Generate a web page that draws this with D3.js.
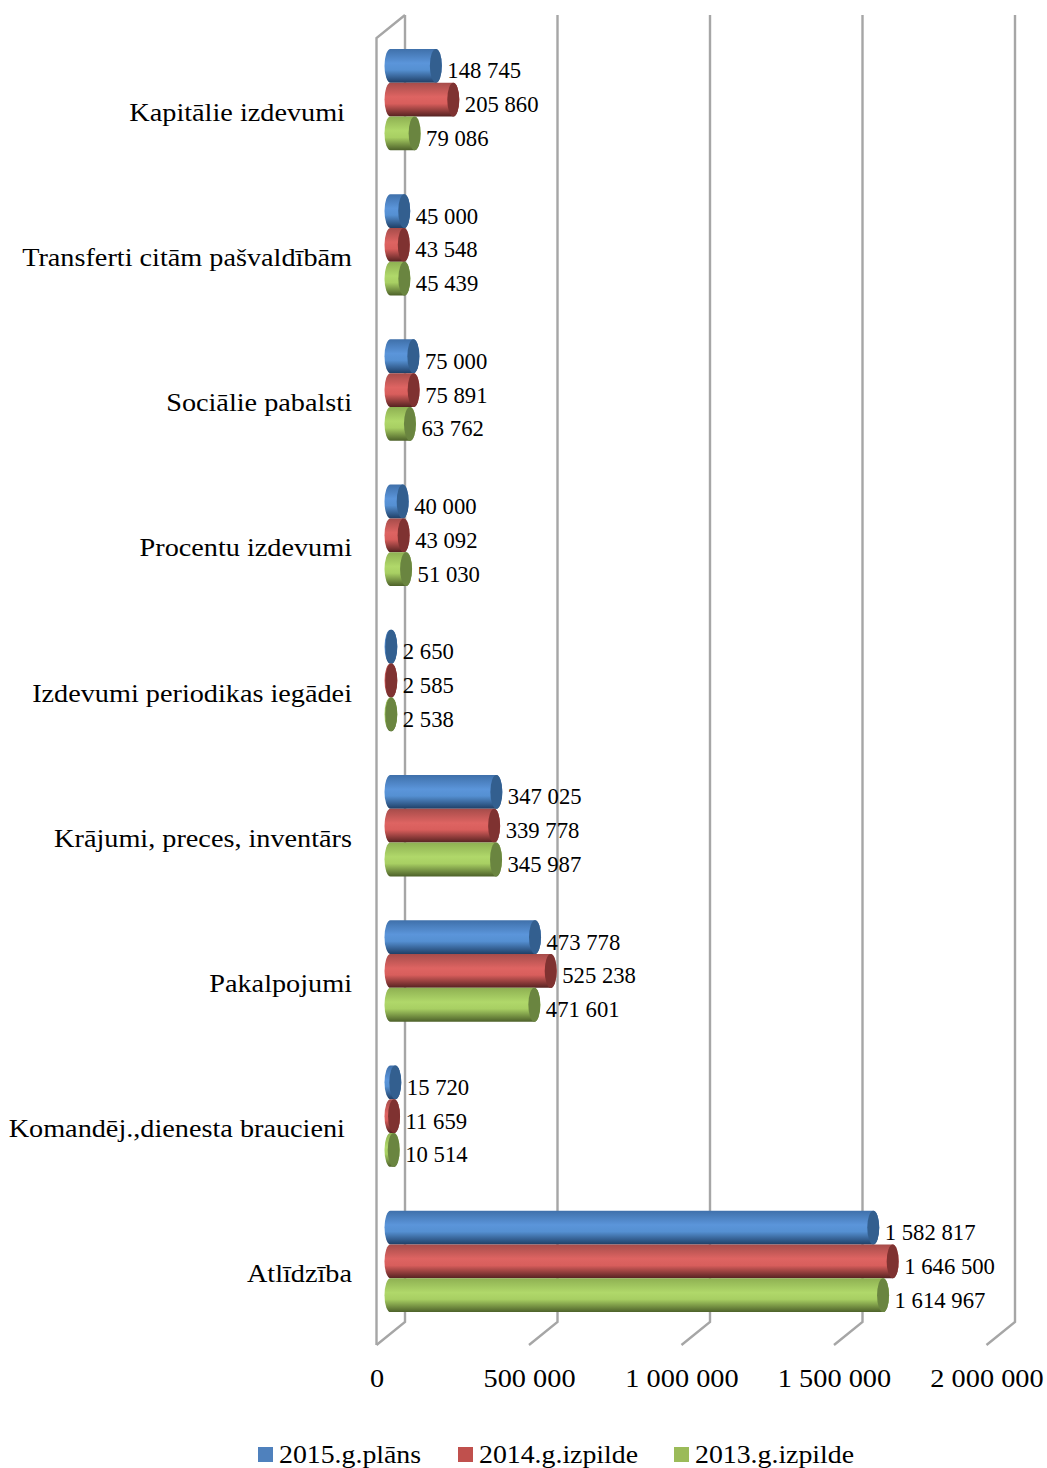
<!DOCTYPE html>
<html>
<head>
<meta charset="utf-8">
<script src="https://cdn.jsdelivr.net/npm/d3@7"></script>
<style>
	html, body { margin: 0; padding: 0; background: #fff; }
	svg { display: block; }
	text { font-family: "Liberation Serif", serif; fill: #000; white-space: pre; }
</style>
</head>
<body>
<svg width="1047" height="1468"></svg>
<script>
// top to bottom, the trailing spaces are in the original labels
const categories = [
	"Kapitālie izdevumi ",
	"Transferti citām pašvaldībām",
	"Sociālie pabalsti",
	"Procentu izdevumi",
	"Izdevumi periodikas iegādei",
	"Krājumi, preces, inventārs",
	"Pakalpojumi",
	"Komandēj.,dienesta braucieni ",
	"Atlīdzība",
];
const seriesNames = ["2015.g.plāns", "2014.g.izpilde", "2013.g.izpilde"];
const plan2015 = [148745, 45000, 75000, 40000, 2650, 347025, 473778, 15720, 1582817];
const done2014 = [205860, 43548, 75891, 43092, 2585, 339778, 525238, 11659, 1646500];
const done2013 = [79086, 45439, 63762, 51030, 2538, 345987, 471601, 10514, 1614967];
const tickValues = [0, 500000, 1000000, 1500000, 2000000];

const seriesValues = [plan2015, done2014, done2013];

const legendColours = ["#4f81bd", "#c0504d", "#9bbb59"];
const capColours = ["#335f8f", "#7f3231", "#6a8540"];
const gradientStops = [
	["#3f70aa", "#5b95da", "#5590d2", "#1f3f66"],
	["#a64c4a", "#de6462", "#d85e5c", "#552221"],
	["#8eb052", "#b0d86a", "#a8cf63", "#4d612a"],
];

const svg = d3.select("svg");

const domain = [0, 2000000];
const xBack = d3.scaleLinear().domain(domain).range([405, 1015]);
const xFront = d3.scaleLinear().domain(domain).range([376.5, 986.5]);
const xBar = d3.scaleLinear().domain(domain).range([390.5, 1000.5]);
const yCategory = d3.scaleBand().domain(categories).range([27, 1334]);
const barHeight = 33.8;
const capRx = 6;
const wallTop = 15;
const wallBottom = 1322;
const depthY = 23;

const format = d3.formatLocale({ thousands: " ", grouping: [3], decimal: ",", currency: ["", ""] }).format(",d");

const defs = svg.append("defs");
gradientStops.forEach((stops, i) => {
	const gradient = defs.append("linearGradient")
		.attr("id", "bar" + i)
		.attr("x1", 0).attr("y1", 0)
		.attr("x2", 0).attr("y2", 1);
	[0, 0.42, 0.62, 1].forEach((offset, j) => {
		gradient.append("stop").attr("offset", offset).attr("stop-color", stops[j]);
	});
});

// walls and grid
const grid = svg.append("g")
	.attr("fill", "none")
	.attr("stroke", "#a6a6a6")
	.attr("stroke-width", 2.4);

grid.append("path")
	.attr("d", `M${xBack(0)},${wallTop}L${xFront(0)},${wallTop + depthY}V${wallBottom + depthY}`);

grid.selectAll(".gridline")
	.data(tickValues)
	.join("path")
	.attr("class", "gridline")
	.attr("d", (d) => `M${xBack(d)},${wallTop}V${wallBottom}L${xFront(d)},${wallBottom + depthY}`);

// bars
const barGroups = svg.append("g");
categories.forEach((category, c) => {
	seriesValues.forEach((values, s) => {
		const value = values[c];
		const cy = yCategory(category) + yCategory.bandwidth() / 2 + (s - 1) * barHeight;
		const left = xBar(0);
		const right = xBar(value);
		const ry = barHeight / 2;
		const g = barGroups.append("g");

		g.append("path")
			.attr("d", `M${left},${cy - ry}H${right}A${capRx},${ry} 0 0 1 ${right},${cy + ry}H${left}A${capRx},${ry} 0 0 1 ${left},${cy - ry}Z`)
			.attr("fill", `url(#bar${s})`);
		g.append("ellipse")
			.attr("cx", right)
			.attr("cy", cy)
			.attr("rx", capRx)
			.attr("ry", ry)
			.attr("fill", capColours[s]);
		g.append("text")
			.attr("x", right + capRx + 5.5)
			.attr("y", cy + 12.5)
			.attr("font-size", 22.7)
			.text(format(value));
	});
});

// category labels, stretched since the original face is wider
svg.append("g")
	.selectAll("text")
	.data(categories)
	.join("text")
	.attr("transform", (d) => `translate(352,${yCategory(d) + yCategory.bandwidth() / 2 + 21}) scale(1.13,1)`)
	.attr("text-anchor", "end")
	.attr("font-size", 25)
	.text((d) => d);

// value axis
const axis = svg.append("g")
	.attr("transform", "translate(0,1365.5)")
	.call(d3.axisBottom(xFront).tickValues(tickValues).tickSize(0).tickFormat(format));
axis.select(".domain").remove();
axis.selectAll("text")
	.attr("font-family", "Liberation Serif")
	.attr("font-size", 26)
	.attr("fill", "#000")
	.attr("transform", "scale(1.09,1)");

// legend
const legendX = [258, 458, 674];
const legend = svg.append("g")
	.selectAll("g")
	.data(seriesNames)
	.join("g")
	.attr("transform", (d, i) => `translate(${legendX[i]},1447)`);
legend.append("rect")
	.attr("width", 15)
	.attr("height", 15)
	.attr("fill", (d, i) => legendColours[i]);
legend.append("text")
	.attr("transform", "translate(21,16) scale(1.07,1)")
	.attr("font-size", 26)
	.text((d) => d);
</script>
</body>
</html>
